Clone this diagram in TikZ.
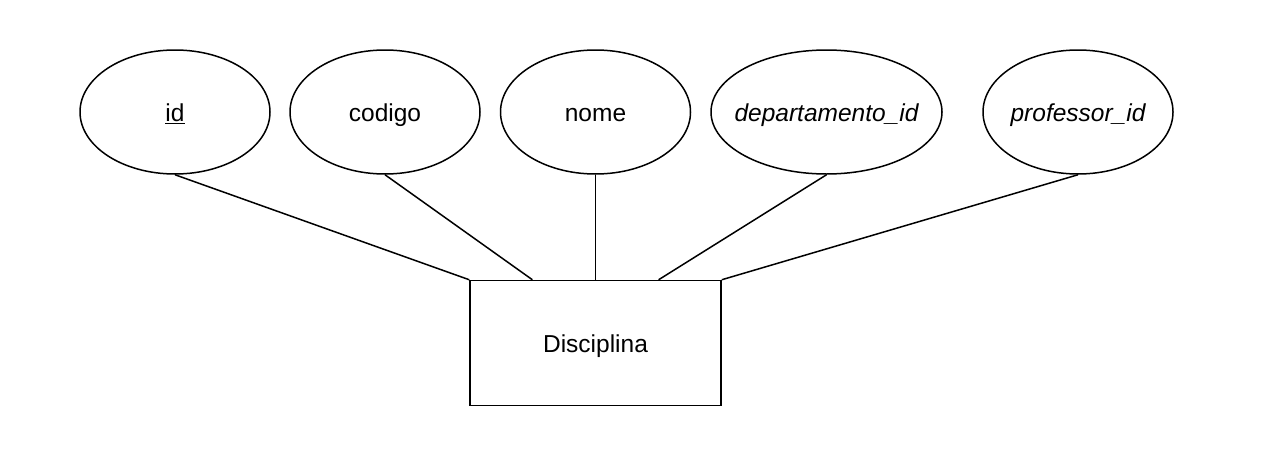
\documentclass[tikz,border=0pt]{standalone}
\usepackage{fontspec}
\setmainfont{Liberation Sans}
\usetikzlibrary{shapes.geometric,calc}
\newcommand{\attrlabel}[1]{\makebox[0pt]{#1}}

\begin{document}
\begin{tikzpicture}[x=1pt,y=-1pt,
		attrnode/.style={ellipse, draw=black, line width=1.5pt, minimum width=190pt, minimum height=124pt, inner sep=0pt, text height=22pt, text depth=3.6pt, font=\fontsize{24.5}{29}\selectfont},
		entnode/.style={rectangle, draw=black, line width=1.5pt, minimum width=251pt, minimum height=125pt, inner sep=0pt, text height=22pt, text depth=3.6pt, font=\fontsize{24.5}{29}\selectfont},
		link/.style={line width=1.5pt}]
		\useasboundingbox (0,0) rectangle (1266,450);
		\node[attrnode] (id) at (175,112) {\attrlabel{\underline{id}}};
		\node[attrnode] (codigo) at (385,112) {\attrlabel{codigo}};
		\node[attrnode] (nome) at (595.5,112) {\attrlabel{nome}};
		\node[attrnode, minimum width=231pt] (depid) at (826.5,112) {\attrlabel{\itshape departamento\_id}};
		\node[attrnode] (profid) at (1078,112) {\attrlabel{\itshape professor\_id}};
		\node[entnode] (disciplina) at (595.5,343) {Disciplina};
		\coordinate (dq1) at ($(disciplina.north west)!0.25!(disciplina.north east)$);
		\coordinate (dq3) at ($(disciplina.north west)!0.75!(disciplina.north east)$);
		\draw[link] (id.south) -- (disciplina.north west);
		\draw[link] (codigo.south) -- (dq1);
		\draw[link] (nome.south) -- (disciplina.north);
		\draw[link] (depid.south) -- (dq3);
		\draw[link] (profid.south) -- (disciplina.north east);
	\end{tikzpicture}
\end{document}
